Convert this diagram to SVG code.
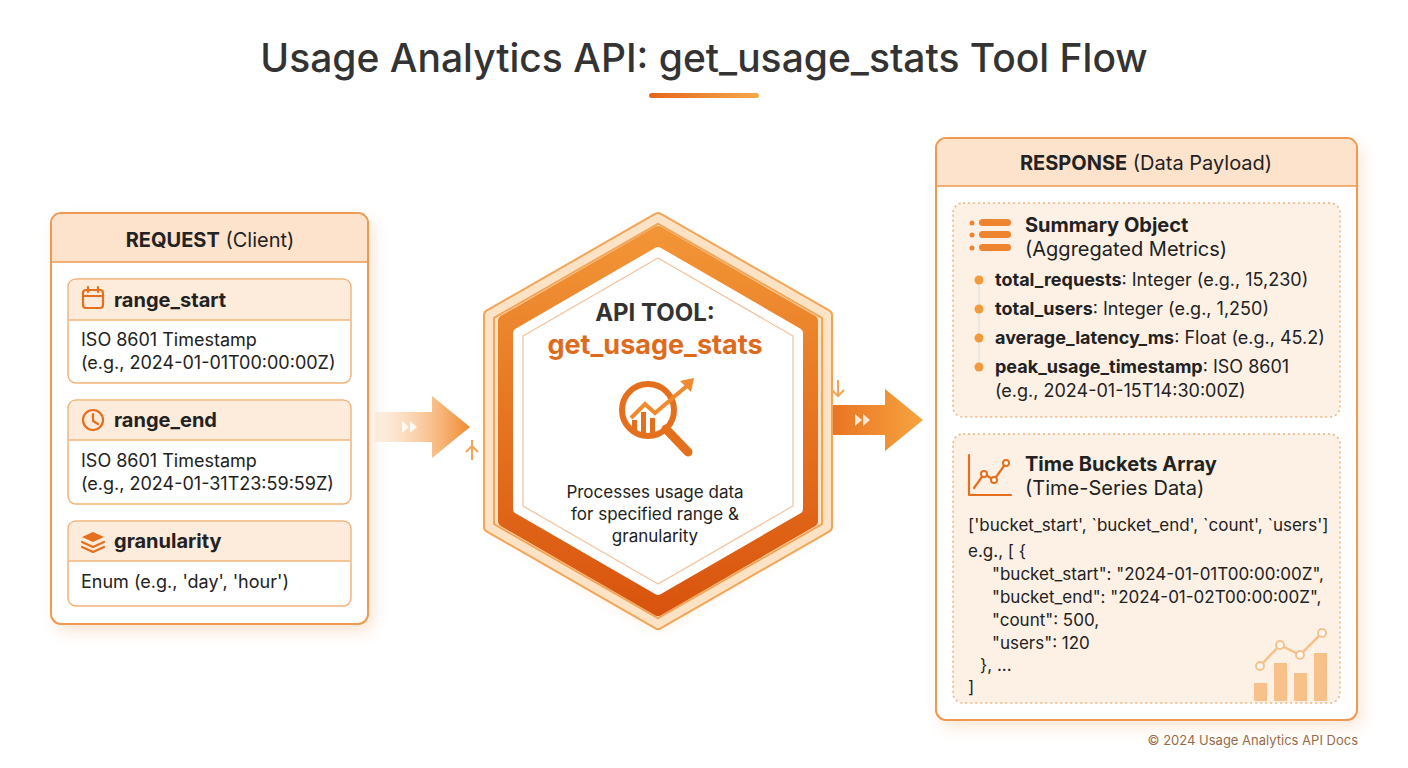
<svg xmlns="http://www.w3.org/2000/svg" width="1408" height="768" viewBox="0 0 1408 768">
<defs>
<style>
text{font-family:Inter,"Liberation Sans",sans-serif;fill:#222}
.h{font-size:20px}
.b{font-weight:700}
.t{font-size:18px}
.t2{font-size:17px}
.card{fill:#fff;stroke:#f2b47a;stroke-width:1.5}
.chd{fill:#fdebdc}
.ic{fill:none;stroke:#e46f1c;stroke-width:2.2;stroke-linecap:round;stroke-linejoin:round}
.dash{fill:#fdf1e6;stroke:#f0b27a;stroke-width:1.5;stroke-dasharray:2 3}
.dot{fill:#f29a3c}
</style>
<linearGradient id="og" x1="0" y1="0" x2="1" y2="0"><stop offset="0" stop-color="#e5661a"/><stop offset="1" stop-color="#f6a94a"/></linearGradient>
<linearGradient id="ag" x1="0" y1="0" x2="1" y2="0"><stop offset="0" stop-color="#fbd3ad" stop-opacity="0.3"/><stop offset="1" stop-color="#f08a2c"/></linearGradient>
<linearGradient id="ag2" x1="0" y1="0" x2="1" y2="0"><stop offset="0" stop-color="#e4661a"/><stop offset="1" stop-color="#f7a440"/></linearGradient>
<linearGradient id="hx" x1="0" y1="0" x2="0" y2="1"><stop offset="0" stop-color="#f29536"/><stop offset="1" stop-color="#d9540e"/></linearGradient>
<filter id="sh" x="-20%" y="-20%" width="140%" height="140%"><feGaussianBlur stdDeviation="8"/></filter>
</defs>
<rect width="1408" height="768" fill="#fff"/>
<text x="704" y="72" text-anchor="middle" style="font-size:39px;font-weight:500;fill:#333">Usage Analytics API: get_usage_stats Tool Flow</text>
<rect x="649" y="93" width="110" height="5" rx="2.5" fill="url(#og)"/>

<g id="connectors">
<path d="M375 412 H432 V396 L470 427 L432 458 V442 H375 Z" fill="url(#ag)"/>
<path d="M402 421 l7 6 l-7 6 Z M410 421 l7 6 l-7 6 Z" fill="#fff" opacity="0.8"/>
<path d="M805 405 H885 V389 L923 420 L885 451 V435 H805 Z" fill="url(#ag2)"/>
<path d="M855 414 l7 6 l-7 6 Z M863 414 l7 6 l-7 6 Z" fill="#fff" opacity="0.8"/>
</g>

<g id="request">
<rect x="56" y="220" width="317" height="411" rx="10" fill="#f7b98a" opacity="0.4" filter="url(#sh)"/>
<rect x="51" y="213" width="317" height="411" rx="10" fill="#fff" stroke="#ee9a52" stroke-width="2"/>
<path d="M52 262 V223 a9 9 0 0 1 9 -9 H358 a9 9 0 0 1 9 9 V262 Z" fill="#fde3cc"/>
<line x1="52" y1="262" x2="367" y2="262" stroke="#ee9a52" stroke-width="1.5"/>
<text x="210" y="247" text-anchor="middle" class="h"><tspan class="b">REQUEST</tspan> (Client)</text>
<g id="range_start">
<rect x="68" y="279" width="283" height="104" rx="8" class="card"/>
<path d="M69 320 V287 a7 7 0 0 1 7 -7 H343 a7 7 0 0 1 7 7 V320 Z" class="chd"/>
<line x1="69" y1="320" x2="350" y2="320" stroke="#f2b47a" stroke-width="1.5"/>
<rect x="83" y="290" width="20" height="18" rx="3" class="ic"/><line x1="83" y1="296" x2="103" y2="296" class="ic"/><line x1="88" y1="287" x2="88" y2="292" class="ic"/><line x1="98" y1="287" x2="98" y2="292" class="ic"/>
<text x="114" y="307" class="h b">range_start</text>
<text x="81" y="346" class="t">ISO 8601 Timestamp</text>
<text x="81" y="369" class="t">(e.g., 2024-01-01T00:00:00Z)</text>
</g>
<g id="range_end">
<rect x="68" y="400" width="283" height="104" rx="8" class="card"/>
<path d="M69 440 V408 a7 7 0 0 1 7 -7 H343 a7 7 0 0 1 7 7 V440 Z" class="chd"/>
<line x1="69" y1="440" x2="350" y2="440" stroke="#f2b47a" stroke-width="1.5"/>
<circle cx="93" cy="420" r="10" class="ic"/><path d="M93 414 V421 L98 424" class="ic"/>
<text x="114" y="427" class="h b">range_end</text>
<text x="81" y="467" class="t">ISO 8601 Timestamp</text>
<text x="81" y="490" class="t">(e.g., 2024-01-31T23:59:59Z)</text>
</g>
<g id="granularity">
<rect x="68" y="521" width="283" height="85" rx="8" class="card"/>
<path d="M69 561 V529 a7 7 0 0 1 7 -7 H343 a7 7 0 0 1 7 7 V561 Z" class="chd"/>
<line x1="69" y1="561" x2="350" y2="561" stroke="#f2b47a" stroke-width="1.5"/>
<path d="M93 532 L104 537 L93 542 L82 537 Z" fill="#e46f1c"/><path d="M82 542 L93 547 L104 542 M82 547 L93 552 L104 547" class="ic"/>
<text x="114" y="548" class="h b">granularity</text>
<text x="81" y="588" class="t">Enum (e.g., 'day', 'hour')</text>
</g>
</g>

<g id="api_tool">
<path d="M658 228 L822 322 V525 L658 625 L494 525 V322 Z" fill="#f6a55e" opacity="0.5" filter="url(#sh)"/>
<path d="M658 218 L827 315 V527 L658 624 L489 527 V315 Z" fill="#fde3c6" stroke="#f2a556" stroke-width="12" stroke-linejoin="round"/>
<path d="M658 218 L827 315 V527 L658 624 L489 527 V315 Z" fill="none" stroke="#fde3c6" stroke-width="8" stroke-linejoin="round"/>
<path d="M658 232 L812 321 V521 L658 610 L504 521 V321 Z" fill="url(#hx)" stroke="url(#hx)" stroke-width="12" stroke-linejoin="round"/>
<path d="M658 252 L798 333 V509 L658 590 L518 509 V333 Z" fill="#fff" stroke="#fff" stroke-width="10" stroke-linejoin="round"/>
<path d="M658 258 L793 336 V506 L658 584 L523 506 V336 Z" fill="none" stroke="#f3c09a" stroke-width="1.2" stroke-linejoin="round"/>
<path d="M472 440 V460 M466 452 L472 446 L478 452" stroke="#f2a556" stroke-width="2" fill="none"/>
<path d="M838 380 V396 M832 390 L838 396 L844 390" stroke="#f2a556" stroke-width="2" fill="none"/>
<text x="655" y="321" text-anchor="middle" style="font-size:24px;font-weight:700;fill:#333">API TOOL:</text>
<text x="655" y="354" text-anchor="middle" style="font-size:27px;font-weight:700;fill:#e06a1c">get_usage_stats</text>
<circle cx="648" cy="410" r="26" fill="none" stroke="#e46f1c" stroke-width="6"/>
<path d="M666 429 L688 452" stroke="#e46f1c" stroke-width="9" stroke-linecap="round"/>
<path d="M631 418 L645 404 L655 413 L688 385" fill="none" stroke="#f08a2c" stroke-width="4"/>
<path d="M680 381 L694 378 L691 392 Z" fill="#f08a2c"/>
<rect x="632" y="420" width="5" height="14" fill="#e46f1c"/><rect x="641" y="412" width="5" height="24" fill="#e46f1c"/><rect x="650" y="418" width="5" height="18" fill="#e46f1c"/>
<text x="655" y="498" text-anchor="middle" style="font-size:17px">Processes usage data</text>
<text x="655" y="520" text-anchor="middle" style="font-size:17px">for specified range &amp;</text>
<text x="655" y="542" text-anchor="middle" style="font-size:17px">granularity</text>
</g>

<g id="response">
<rect x="941" y="145" width="421" height="582" rx="10" fill="#f7b98a" opacity="0.35" filter="url(#sh)"/>
<rect x="936" y="138" width="421" height="582" rx="10" fill="#fff" stroke="#ee9a52" stroke-width="2"/>
<path d="M937 186 V148 a9 9 0 0 1 9 -9 H1347 a9 9 0 0 1 9 9 V186 Z" fill="#fde3cc"/>
<line x1="937" y1="186" x2="1356" y2="186" stroke="#ee9a52" stroke-width="1.5"/>
<text x="1146" y="170" text-anchor="middle" class="h"><tspan class="b">RESPONSE</tspan> (Data Payload)</text>
<g id="summary">
<rect x="953" y="203" width="387" height="214" rx="10" class="dash"/>
<g fill="#ee8430"><circle cx="972" cy="223" r="2.5"/><circle cx="972" cy="235" r="2.5"/><circle cx="972" cy="248" r="2.5"/>
<rect x="979" y="219" width="32" height="7" rx="3.5"/><rect x="979" y="231" width="32" height="7" rx="3.5"/><rect x="979" y="244" width="32" height="7" rx="3.5"/></g>
<text x="1025" y="232" class="h b">Summary Object</text>
<text x="1025" y="256" class="h">(Aggregated Metrics)</text>
<line x1="979" y1="280" x2="979" y2="366" stroke="#ddd" stroke-width="1"/>
<circle cx="979" cy="280" r="4.5" class="dot"/><circle cx="979" cy="309" r="4.5" class="dot"/><circle cx="979" cy="338" r="4.5" class="dot"/><circle cx="979" cy="367" r="4.5" class="dot"/>
<text x="995" y="286" class="t"><tspan class="b">total_requests</tspan>: Integer (e.g., 15,230)</text>
<text x="995" y="315" class="t"><tspan class="b">total_users</tspan>: Integer (e.g., 1,250)</text>
<text x="995" y="344" class="t"><tspan class="b">average_latency_ms</tspan>: Float (e.g., 45.2)</text>
<text x="995" y="373" class="t"><tspan class="b">peak_usage_timestamp</tspan>: ISO 8601</text>
<text x="995" y="397" class="t">(e.g., 2024-01-15T14:30:00Z)</text>
</g>
<g id="buckets">
<rect x="953" y="434" width="387" height="269" rx="10" class="dash"/>
<path d="M969 455 V495 H1011" class="ic"/><path d="M974 488 L984 474 L994 480 L1006 463" class="ic"/>
<circle cx="984" cy="474" r="3" fill="#fff" stroke="#e46f1c" stroke-width="2"/><circle cx="994" cy="480" r="3" fill="#fff" stroke="#e46f1c" stroke-width="2"/><circle cx="1006" cy="463" r="3" fill="#fff" stroke="#e46f1c" stroke-width="2"/>
<text x="1025" y="471" class="h b">Time Buckets Array</text>
<text x="1025" y="495" class="h">(Time-Series Data)</text>
<text x="968" y="531" class="t2">['bucket_start', `bucket_end', `count', `users']</text>
<text x="968" y="557" class="t2">e.g., [ {</text>
<text x="992" y="580" class="t2">"bucket_start": "2024-01-01T00:00:00Z",</text>
<text x="992" y="603" class="t2">"bucket_end": "2024-01-02T00:00:00Z",</text>
<text x="992" y="626" class="t2">"count": 500,</text>
<text x="992" y="649" class="t2">"users": 120</text>
<text x="980" y="671" class="t2">}, ...</text>
<text x="968" y="693" class="t2">]</text>
<g opacity="0.6"><rect x="1254" y="683" width="13" height="18" fill="#f5a24e"/><rect x="1274" y="663" width="13" height="38" fill="#f5a24e"/><rect x="1294" y="673" width="13" height="28" fill="#f5a24e"/><rect x="1314" y="653" width="13" height="48" fill="#f5a24e"/>
<path d="M1260 666 L1280 645 L1300 655 L1322 633" fill="none" stroke="#f5a24e" stroke-width="2.5"/>
<circle cx="1260" cy="666" r="4" fill="#fff" stroke="#f5a24e" stroke-width="2"/><circle cx="1280" cy="645" r="4" fill="#fff" stroke="#f5a24e" stroke-width="2"/><circle cx="1300" cy="655" r="4" fill="#fff" stroke="#f5a24e" stroke-width="2"/><circle cx="1322" cy="633" r="4" fill="#fff" stroke="#f5a24e" stroke-width="2"/></g>
</g>
</g>
<text x="1358" y="745" text-anchor="end" style="font-size:13px;fill:#9a6a48">© 2024 Usage Analytics API Docs</text>
</svg>
